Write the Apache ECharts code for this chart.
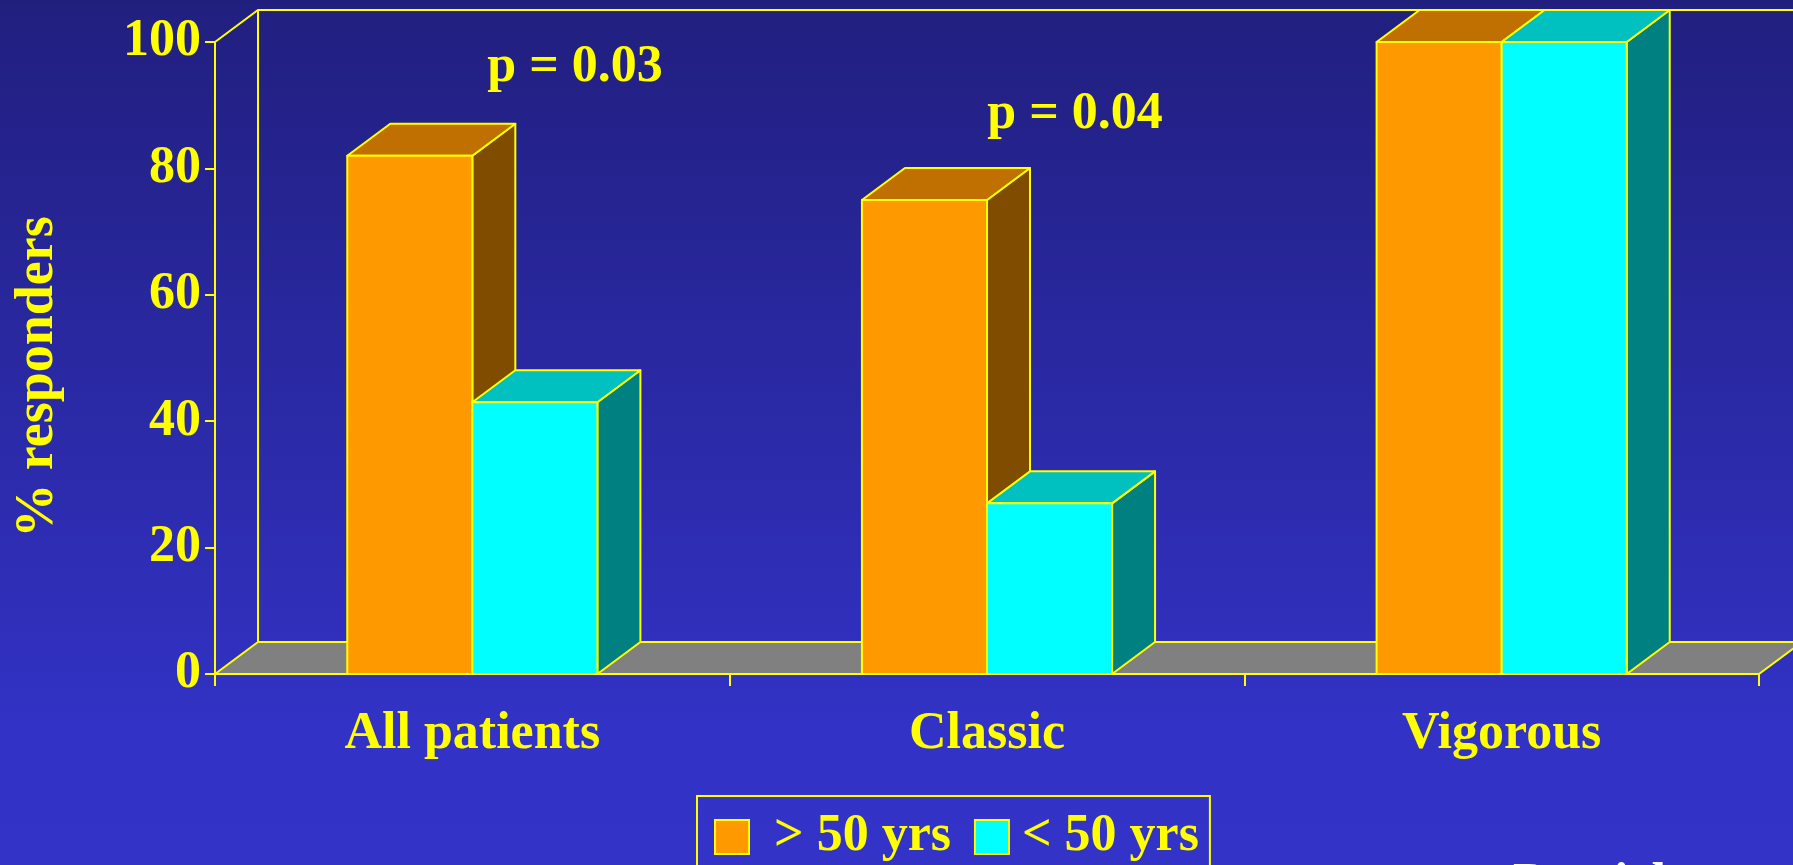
<!DOCTYPE html>
<html>
<head>
<meta charset="utf-8">
<title>% responders by age</title>
<script src="https://cdn.jsdelivr.net/npm/echarts@6/dist/echarts.min.js"></script>
<style>
  html, body { margin: 0; padding: 0; overflow: hidden; }
  #chart { width: 1793px; height: 865px; }
</style>
</head>
<body>
<div id="chart"></div>
<script>
// ---- data ----
const categories = ['All patients', 'Classic', 'Vigorous'];
const seriesNames = ['> 50 yrs', '< 50 yrs'];
const olderValues = [82, 75, 100];     // % responders, age > 50
const youngerValues = [43, 27, 100];   // % responders, age < 50
const pValueLabels = ['p = 0.03', 'p = 0.04'];
const axisTitle = '% responders';
const sourceNote = 'Pasricha et al.';

// ---- styling ----
const FONT = 'Liberation Serif';
const YELLOW = '#FFFF00';
const DX = 43;          // depth offset of the pseudo-3D boxes (px)
const DY = 32;
const BAR_SHARE = 0.243; // each bar's width as a share of one category band

const palettes = [
  { front: '#FF9900', top: '#C07000', side: '#7F4C00' },
  { front: '#00FFFF', top: '#00C0C0', side: '#008080' }
];

const edge = { stroke: YELLOW, lineWidth: 2, lineJoin: 'round' };

// One box per data item: side face, top face, then front face.
function boxRenderer(side, colors) {
  return function (params, api) {
    const cat = api.value(0);
    const val = api.value(1);
    const base = api.coord([cat, 0]);
    const top = api.coord([cat, val]);
    const w = api.size([1, 0])[0] * BAR_SHARE;
    const x0 = side < 0 ? base[0] - w : base[0];
    const x1 = x0 + w;
    const yb = base[1];
    const yt = top[1];
    return {
      type: 'group',
      children: [
        { type: 'polygon',
          shape: { points: [[x1, yt], [x1 + DX, yt - DY], [x1 + DX, yb - DY], [x1, yb]] },
          style: Object.assign({ fill: colors.side }, edge) },
        { type: 'polygon',
          shape: { points: [[x0, yt], [x0 + DX, yt - DY], [x1 + DX, yt - DY], [x1, yt]] },
          style: Object.assign({ fill: colors.top }, edge) },
        { type: 'rect',
          shape: { x: x0, y: yt, width: w, height: yb - yt },
          style: Object.assign({ fill: colors.front }, edge) }
      ]
    };
  };
}

// Grey floor and the outlined back wall of the plot box.
function frameRenderer(params) {
  const cs = params.coordSys;
  const xl = cs.x, xr = cs.x + cs.width;
  const yt = cs.y, yb = cs.y + cs.height;
  return {
    type: 'group',
    children: [
      { type: 'polyline',
        shape: { points: [[xl, yt], [xl + DX, yt - DY], [xr + DX, yt - DY]] },
        style: { stroke: YELLOW, lineWidth: 2, fill: null } },
      { type: 'line',
        shape: { x1: xl + DX, y1: yt - DY, x2: xl + DX, y2: yb - DY },
        style: { stroke: YELLOW, lineWidth: 2 } },
      { type: 'polygon',
        shape: { points: [[xl, yb], [xr, yb], [xr + DX, yb - DY], [xl + DX, yb - DY]] },
        style: Object.assign({ fill: '#808080' }, edge) }
    ]
  };
}

const chart = echarts.init(document.getElementById('chart'), null, { renderer: 'canvas' });

const textFont = { color: YELLOW, fontFamily: FONT, fontWeight: 'bold', fontSize: 52 };

chart.setOption({
  animation: false,
  backgroundColor: {
    type: 'linear', x: 0, y: 0, x2: 0, y2: 1,
    colorStops: [
      { offset: 0, color: '#211F7E' },
      { offset: 0.85, color: '#3232C6' },
      { offset: 1, color: '#3333C8' }
    ]
  },
  grid: { left: 215, top: 42, width: 1544, height: 632, containLabel: false, outerBoundsMode: 'none' },
  xAxis: {
    type: 'category',
    data: categories,
    boundaryGap: true,
    axisLine: { show: true, lineStyle: { color: YELLOW, width: 2 } },
    axisTick: { show: true, length: 12, lineStyle: { color: YELLOW, width: 2 } },
    axisLabel: Object.assign({ margin: 35 }, textFont),
    splitLine: { show: false }
  },
  yAxis: {
    type: 'value',
    min: 0, max: 100, interval: 20,
    axisLine: { show: true, lineStyle: { color: YELLOW, width: 2 } },
    axisTick: { show: true, length: 10, lineStyle: { color: YELLOW, width: 2 } },
    axisLabel: Object.assign({ margin: 14, padding: [7, 0, 0, 0] }, textFont),
    splitLine: { show: false }
  },
  legend: {
    data: [
      { name: seriesNames[0], icon: 'rect',
        itemStyle: { color: palettes[0].front, borderColor: YELLOW, borderWidth: 2 },
        textStyle: { padding: [10, 0, 0, 20] } },
      { name: seriesNames[1], icon: 'rect',
        itemStyle: { color: palettes[1].front, borderColor: YELLOW, borderWidth: 2 },
        textStyle: { padding: [10, 0, 0, 8] } }
    ],
    left: 697, top: 796,
    itemWidth: 34, itemHeight: 34, itemGap: 23,
    padding: [15, 11, 30, 17],
    borderColor: YELLOW, borderWidth: 2,
    selectedMode: false,
    textStyle: textFont
  },
  graphic: [
    { type: 'text', x: 38, y: 377, rotation: Math.PI / 2,
      style: { text: axisTitle, fill: YELLOW, font: 'bold 54px ' + FONT, align: 'center', verticalAlign: 'middle' } },
    { type: 'text', x: 575, y: 68,
      style: { text: pValueLabels[0], fill: YELLOW, font: 'bold 52px ' + FONT, align: 'center', verticalAlign: 'middle' } },
    { type: 'text', x: 1075, y: 115,
      style: { text: pValueLabels[1], fill: YELLOW, font: 'bold 52px ' + FONT, align: 'center', verticalAlign: 'middle' } },
    { type: 'text', x: 1513, y: 860,
      style: { text: sourceNote, fill: '#FFFFFF', font: 'bold 52px ' + FONT, align: 'left', verticalAlign: 'top' } }
  ],
  series: [
    { type: 'custom', name: 'frame', silent: true,
      data: [[0, 0]], encode: { x: 0, y: 1 },
      renderItem: frameRenderer },
    { type: 'custom', name: seriesNames[0],
      data: categories.map((c, i) => [i, olderValues[i]]), encode: { x: 0, y: 1 },
      itemStyle: { color: palettes[0].front },
      renderItem: boxRenderer(-1, palettes[0]) },
    { type: 'custom', name: seriesNames[1],
      data: categories.map((c, i) => [i, youngerValues[i]]), encode: { x: 0, y: 1 },
      itemStyle: { color: palettes[1].front },
      renderItem: boxRenderer(1, palettes[1]) }
  ]
});
</script>
</body>
</html>
